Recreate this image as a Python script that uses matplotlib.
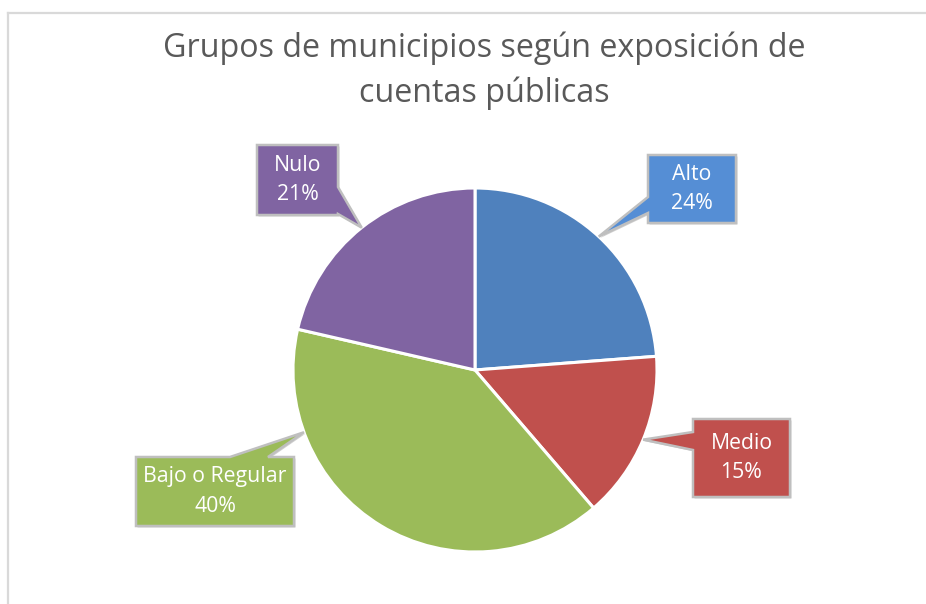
import numpy as np
import matplotlib
matplotlib.use('Agg')
import matplotlib.pyplot as plt
from matplotlib.patches import Polygon

# data
categories = ["Alto", "Medio", "Bajo o Regular", "Nulo"]
shares = [23.8, 14.9, 39.9, 21.4]
slice_colors = ["#4F81BD", "#C0504D", "#9BBB59", "#8064A2"]
box_colors = ["#558ED5", "#C0504D", "#9BBB59", "#8064A2"]
title = "Grupos de municipios según exposición de\ncuentas públicas"

W, H = 926, 604
CX, CY, R = 475, 370, 182  # pie centre / radius in image pixels


def fy(y):
    # image row -> data y
    return H - y


fig = plt.figure(figsize=(W / 100, H / 100), dpi=100)
ax = fig.add_axes([0, 0, 1, 1])

wedges, _ = ax.pie(shares, colors=slice_colors, startangle=90, counterclock=False,
                   center=(CX, fy(CY)), radius=R, frame=True,
                   wedgeprops=dict(edgecolor="white", linewidth=2.2))
ax.set_xlim(0, W)
ax.set_ylim(0, H)
ax.axis('off')

# frame lines of the chart area
ax.plot([8, W], [fy(13), fy(13)], color="#D9D9D9", lw=1.6, clip_on=False)
ax.plot([8, 8], [fy(13), 0], color="#D9D9D9", lw=1.6, clip_on=False)

for i, line in enumerate(title.split("\n")):
    ax.text(484, fy(48 + i * 45), line, ha="center", va="center",
            fontsize=23.2, color="#595959", family="Open Sans")

# callout boxes: (x0, y0, x1, y1), side the pointer leaves from, base span, tip angle
boxes = [(648, 155, 736, 223), (693, 419, 790, 497), (136, 457, 294, 526), (257, 145, 338, 215)]
sides = ["left", "left", "top", "right"]
spans = [(197, 213), (432, 450), (230, 268), (187, 214)]
tip_angle = [None, None, 200, None]

start = 90.0
total = float(sum(shares))
for i, (cat, val) in enumerate(zip(categories, shares)):
    theta1 = start - 360 * val / total
    mid = (start + theta1) / 2 if tip_angle[i] is None else tip_angle[i]
    start = theta1
    tx = CX + R * np.cos(np.radians(mid))
    ty = CY - R * np.sin(np.radians(mid))
    x0, y0, x1, y1 = boxes[i]
    a, b = spans[i]
    side = sides[i]
    if side == "left":
        pts = [(x0, y0), (x1, y0), (x1, y1), (x0, y1), (x0, b), (tx, ty), (x0, a)]
    elif side == "right":
        pts = [(x0, y0), (x1, y0), (x1, a), (tx, ty), (x1, b), (x1, y1), (x0, y1)]
    else:
        pts = [(x0, y0), (a, y0), (tx, ty), (b, y0), (x1, y0), (x1, y1), (x0, y1)]
    pts = [(px, fy(py)) for px, py in pts]
    shadow = Polygon([(px + 1.5, py - 1.5) for px, py in pts], closed=True,
                     facecolor="#D0D0D0", edgecolor="none", zorder=3)
    ax.add_patch(shadow)
    ax.add_patch(Polygon(pts, closed=True, facecolor=box_colors[i],
                         edgecolor="#BFBFBF", lw=1.8, joinstyle="miter", zorder=4))
    ax.text((x0 + x1) / 2, fy((y0 + y1) / 2), f"{cat}\n{val:.0f}%", ha="center", va="center",
            color="white", fontsize=15.3, family="Open Sans", linespacing=1.55, zorder=5)

plt.savefig("out.png", dpi=100)
